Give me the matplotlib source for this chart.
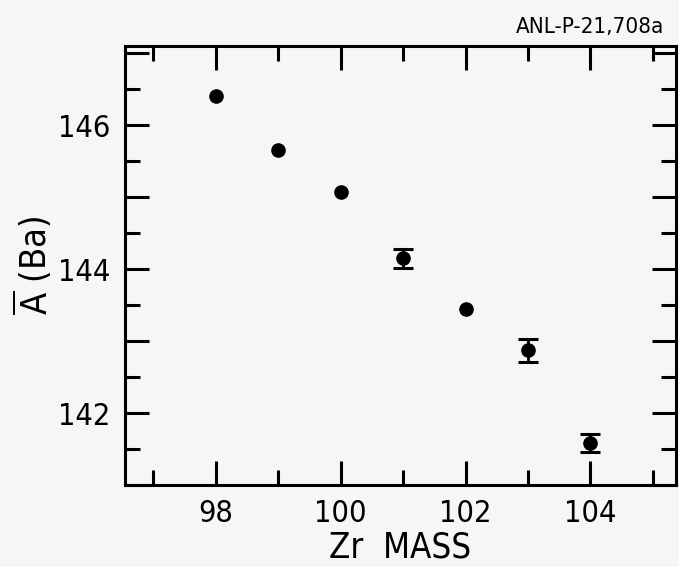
import matplotlib.pyplot as plt
from matplotlib.ticker import MultipleLocator, FuncFormatter

plt.rcParams['font.family'] = ['Liberation Sans Narrow', 'DejaVu Sans']
plt.rcParams['font.stretch'] = 'condensed'
plt.rcParams['mathtext.fontset'] = 'custom'
plt.rcParams['mathtext.rm'] = 'DejaVu Sans:stretch=condensed'

zr_mass = [98, 99, 100, 101, 102, 103, 104]
a_ba = [146.40, 145.66, 145.07, 144.15, 143.45, 142.87, 141.58]
a_err = [0, 0, 0, 0.135, 0, 0.16, 0.125]

fig = plt.figure(figsize=(6.79, 5.67), dpi=100, facecolor='#f6f6f6')
ax = fig.add_axes([0.1834, 0.1446, 0.8122, 0.7743])
ax.set_facecolor('#f6f6f6')

# points with error bars (only where err > 0 draw caps)
for x, y, e in zip(zr_mass, a_ba, a_err):
    if e > 0:
        ax.errorbar(x, y, yerr=e, fmt='o', color='black', ms=9.5,
                    capsize=7.5, capthick=2.2, elinewidth=2)
    else:
        ax.plot(x, y, 'o', color='black', ms=9.5)

ax.set_xlim(96.54, 105.37)
ax.set_ylim(141.0, 147.1)

ax.xaxis.set_major_locator(MultipleLocator(2))
ax.xaxis.set_minor_locator(MultipleLocator(1))
ax.yaxis.set_major_locator(MultipleLocator(1))
ax.yaxis.set_minor_locator(MultipleLocator(0.5))
ax.yaxis.set_major_formatter(FuncFormatter(lambda v, p: '%d' % v if round(v) % 2 == 0 else ''))

ax.tick_params(which='both', direction='in', top=True, right=True, width=2.2,
               labelsize=22, pad=10)
ax.tick_params(which='major', length=17)
ax.tick_params(which='minor', length=11)
for s in ax.spines.values():
    s.set_linewidth(2.2)

ax.set_xlabel('Zr  MASS', fontsize=25, labelpad=2)
ax.set_ylabel(r'$\overline{\mathrm{A}}$ (Ba)', fontsize=26, labelpad=3)

fig.text(0.978, 0.942, 'ANL-P-21,708a', fontsize=16, ha='right', va='baseline')

fig.savefig('out.png', dpi=100, facecolor=fig.get_facecolor())
